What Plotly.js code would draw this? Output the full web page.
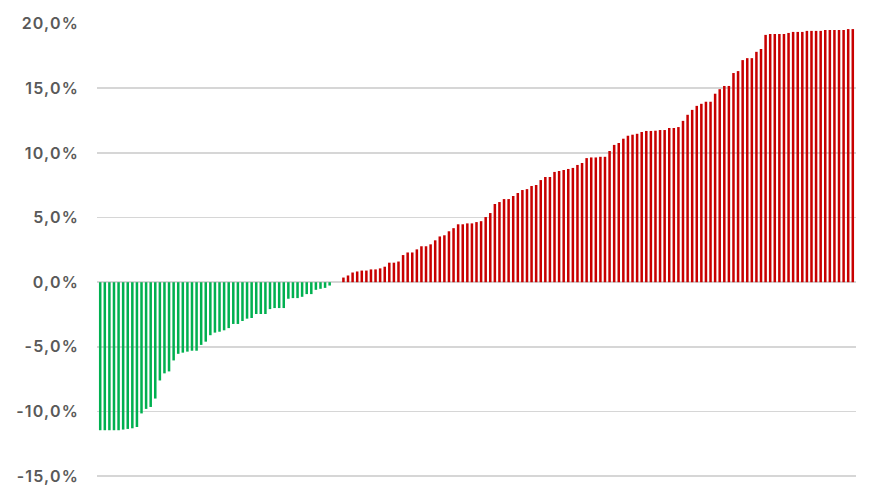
<!DOCTYPE html>
<html>
<head>
<meta charset="utf-8">
<script src="https://cdn.plot.ly/plotly-3.0.1.min.js"></script>
<style>
  html, body { margin: 0; padding: 0; background: #ffffff; }
  #chart { width: 880px; height: 500px; }
  .ytick text { letter-spacing: 1.2px; }
</style>
</head>
<body>
<div id="chart"></div>
<script>
// Values in percent, sorted ascending
const lossValues = [
  -11.45, -11.45, -11.45, -11.45, -11.45, -11.4, -11.35, -11.3, -11.2, -10.15,
  -9.8, -9.65, -9.0, -7.6, -7.05, -6.9, -6.05, -5.54, -5.45, -5.37,
  -5.3, -5.3, -4.85, -4.6, -4.1, -3.9, -3.83, -3.72, -3.55, -3.23,
  -3.23, -3.0, -2.82, -2.77, -2.46, -2.46, -2.46, -2.08, -2.0, -2.0,
  -2.0, -1.28, -1.23, -1.23, -1.13, -0.92, -0.92, -0.59, -0.51, -0.44,
  -0.26
];
const flatValues = [0, 0];
const gainValues = [
  0.36, 0.52, 0.75, 0.83, 0.9, 0.9, 0.99, 0.99, 1.07, 1.2,
  1.51, 1.51, 1.6, 2.1, 2.3, 2.3, 2.54, 2.78, 2.78, 2.93,
  3.24, 3.54, 3.63, 3.94, 4.18, 4.48, 4.48, 4.55, 4.55, 4.65,
  4.72, 5.04, 5.35, 6.05, 6.2, 6.43, 6.43, 6.67, 6.9, 7.13,
  7.2, 7.44, 7.52, 7.9, 8.14, 8.14, 8.53, 8.6, 8.68, 8.76,
  8.84, 9.07, 9.22, 9.6, 9.65, 9.65, 9.7, 9.7, 10.15, 10.62,
  10.77, 11.1, 11.33, 11.41, 11.48, 11.62, 11.7, 11.7, 11.72, 11.77,
  11.77, 11.93, 11.93, 12.0, 12.48, 12.95, 13.33, 13.64, 13.8, 13.96,
  13.96, 14.58, 14.93, 15.18, 15.18, 16.18, 16.33, 17.18, 17.33, 17.33,
  17.82, 18.04, 19.13, 19.2, 19.2, 19.2, 19.2, 19.28, 19.36, 19.36,
  19.36, 19.44, 19.44, 19.44, 19.44, 19.51, 19.51, 19.51, 19.51, 19.51,
  19.58, 19.58
];
const tickVals = [-15, -10, -5, 0, 5, 10, 15, 20];
const tickLabels = ["-15,0%", "-10,0%", "-5,0%", "0,0%", "5,0%", "10,0%", "15,0%", "20,0%"];

const values = lossValues.concat(flatValues, gainValues);
const categories = values.map((v, i) => i);
const lossColor = '#00B050';
const gainColor = '#C80000';
const colors = values.map(v => (v < 0 ? lossColor : gainColor));

const trace = {
  type: 'bar',
  x: categories,
  y: values,
  marker: { color: colors, line: { width: 0 } },
  hoverinfo: 'y'
};

const layout = {
  width: 880,
  height: 500,
  margin: { l: 97, r: 24, t: 23, b: 20, pad: 0 },
  paper_bgcolor: '#ffffff',
  plot_bgcolor: '#ffffff',
  bargap: 0.45,
  showlegend: false,
  font: { family: 'Inter, "Open Sans", sans-serif', color: '#595959' },
  xaxis: {
    range: [-0.7, values.length - 0.3],
    showticklabels: false,
    showgrid: false,
    zeroline: false,
    showline: false,
    ticks: ''
  },
  yaxis: {
    range: [-15.3, 20.05],
    tickvals: tickVals,
    ticktext: tickLabels,
    showgrid: true,
    gridcolor: '#d6d6d6',
    gridwidth: 1.6,
    zeroline: true,
    zerolinecolor: '#d6d6d6',
    zerolinewidth: 1.6,
    showline: false,
    ticks: '',
    ticklabelstandoff: 17,
    tickfont: { family: 'Inter, "Open Sans", sans-serif', size: 16, weight: 600, color: '#595959' }
  }
};

Plotly.newPlot('chart', [trace], layout, { displayModeBar: false, staticPlot: true });
</script>
</body>
</html>
